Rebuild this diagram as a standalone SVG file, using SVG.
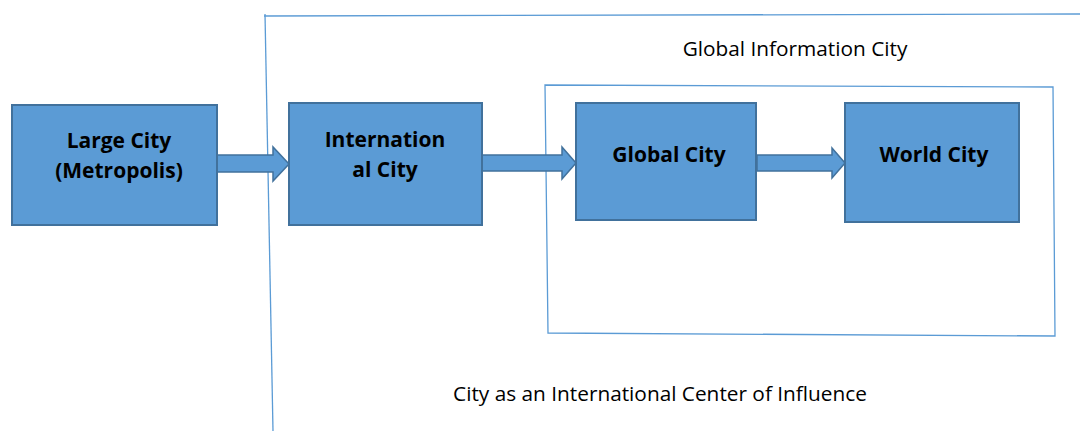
<svg xmlns="http://www.w3.org/2000/svg" width="1080" height="432" viewBox="0 0 1080 432">
<style>
.box{fill:#5b9bd5;stroke:#41719c;stroke-width:2}
.arr{fill:#5b9bd5;stroke:#41719c;stroke-width:1.5;stroke-linejoin:miter}
.frame{fill:none;stroke:#5b9bd5;stroke-width:1.3}
.lbl{font-family:"Open Sans","Liberation Sans",sans-serif;font-weight:bold;font-size:21px;fill:#000;text-anchor:middle}
.cap{font-family:"Open Sans","Liberation Sans",sans-serif;font-size:20.8px;fill:#000;text-anchor:middle}
</style>
<rect width="1080" height="432" fill="#fff"/>
<g id="frames">
<polyline class="frame" points="1080,14 264,16"/>
<line class="frame" x1="265" y1="14" x2="273" y2="431"/>
<polygon class="frame" points="545,85 1053,87 1055,336 548,333"/>
</g>
<g id="labels">
<text class="cap" x="795" y="56">Global Information City</text>
<text class="cap" x="660" y="401">City as an International Center of Influence</text>
</g>
<g id="connectors">
<polygon class="arr" points="217,155 273,155 273,147 289,164 273,181 273,172 217,172"/>
<polygon class="arr" points="482,155 562,155 562,147 576,163 562,179 562,171 482,171"/>
<polygon class="arr" points="757,155 832,155 832,148 845,163 832,178 832,171 757,171"/>
</g>
<g id="large-city">
<rect class="box" x="12" y="105" width="205" height="120"/>
<text class="lbl" x="119" y="148">Large City</text>
<text class="lbl" x="119" y="178">(Metropolis)</text>
</g>
<g id="international-city">
<rect class="box" x="289" y="103" width="193" height="122"/>
<text class="lbl" x="385" y="147">Internation</text>
<text class="lbl" x="385" y="177">al City</text>
</g>
<g id="global-city">
<rect class="box" x="576" y="103" width="180" height="117"/>
<text class="lbl" x="669" y="162">Global City</text>
</g>
<g id="world-city">
<rect class="box" x="845" y="103" width="174" height="119"/>
<text class="lbl" x="934" y="162">World City</text>
</g>
</svg>
